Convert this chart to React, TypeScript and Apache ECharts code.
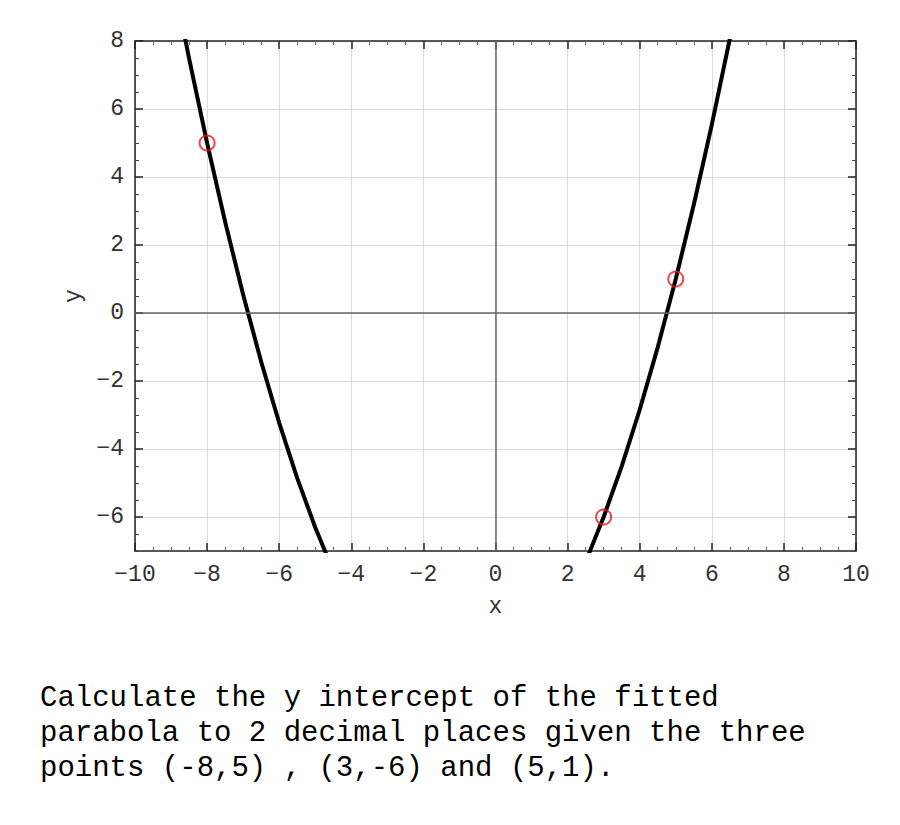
import React, { useEffect, useRef } from "react";
import * as echarts from "echarts";

// Fitted parabola, values
const curveX = [-9, -8.5, -8, -7.5, -7, -6.5, -6, -5.5, -5, -4.5, -4, -3, -2, -1, 0, 1, 2, 2.5, 3, 3.5, 4, 4.5, 5, 5.5, 6, 6.5, 7];
const curveY = [10.154, 7.49, 5.0, 2.683, 0.538, -1.433, -3.231, -4.856, -6.308, -7.587, -8.692, -10.385, -11.385, -11.692, -11.308, -10.231, -8.462, -7.317, -6.0, -4.51, -2.846, -1.01, 1.0, 3.183, 5.538, 8.067, 10.769];

// Given points (red circles)
const pointsX = [-8, 3, 5];
const pointsY = [5, -6, 1];

const xTicks = { min: -10, max: 10, interval: 2 };
const yRange = { min: -7, max: 8, minorInterval: 0.5 };
const yMajorTicks = [-6, -4, -2, 0, 2, 4, 6, 8];

const questionLines = [
  "Calculate the y intercept of the fitted",
  "parabola to 2 decimal places given the three",
  "points (-8,5) , (3,-6) and (5,1).",
];

const FONT = '"Liberation Mono", "Courier New", monospace';
const fmt = (v: number) => String(v).replace("-", "\u2212");

export default function App() {
  const ref = useRef<HTMLDivElement>(null);

  useEffect(() => {
    document.body.style.margin = "0";
    if (!ref.current) return;
    const chart = echarts.init(ref.current, undefined, { renderer: "svg" });

    const labelStyle = { color: "#333", fontFamily: FONT, fontSize: 23 };
    const frameLine = { show: true, onZero: false, lineStyle: { color: "#222", width: 1.5 } };

    const majorX = (pos: "bottom" | "top", labels: boolean) => ({
      type: "value",
      position: pos,
      min: xTicks.min,
      max: xTicks.max,
      interval: xTicks.interval,
      name: labels ? "x" : "",
      nameLocation: "middle",
      nameGap: 44,
      nameTextStyle: { color: "#333", fontFamily: FONT, fontSize: 23 },
      axisLine: frameLine,
      axisTick: { show: true, inside: true, length: 8, lineStyle: { color: "#222", width: 1.5 } },
      minorTick: { show: true, splitNumber: 4, length: 4, lineStyle: { color: "#666", width: 1 } },
      axisLabel: { show: labels, margin: 12, formatter: fmt, ...labelStyle },
      splitLine: { show: labels, lineStyle: { color: "#dcdcdc", width: 1 } },
      minorSplitLine: { show: false },
    });

    const majorY = (pos: "left" | "right", labels: boolean) => ({
      type: "value",
      position: pos,
      min: yRange.min,
      max: yRange.max,
      interval: yRange.minorInterval,
      name: labels ? "y" : "",
      nameLocation: "middle",
      nameGap: 47,
      nameRotate: 90,
      nameTextStyle: { color: "#333", fontFamily: FONT, fontSize: 23 },
      axisLine: frameLine,
      axisTick: {
        show: true,
        inside: true,
        length: 8,
        customValues: yMajorTicks,
        lineStyle: { color: "#222", width: 1.5 },
      },
      axisLabel: {
        show: labels,
        margin: 11,
        customValues: yMajorTicks,
        formatter: fmt,
        ...labelStyle,
      },
      splitLine: { show: labels, lineStyle: { color: "#dcdcdc", width: 1 } },
    });

    const minorY = (pos: "left" | "right") => ({
      type: "value",
      position: pos,
      min: yRange.min,
      max: yRange.max,
      interval: yRange.minorInterval,
      axisLine: { show: false, onZero: false },
      axisTick: { show: true, inside: true, length: 4, lineStyle: { color: "#444", width: 1 } },
      axisLabel: { show: false },
      splitLine: { show: false },
    });

    chart.setOption({
      animation: false,
      backgroundColor: "#fff",
      grid: { left: 135, right: 44, top: 41, bottom: 274, containLabel: false },
      xAxis: [majorX("bottom", true), majorX("top", false)],
      yAxis: [majorY("left", true), minorY("left"), majorY("right", false), minorY("right")],
      graphic: [
        {
          type: "text",
          left: 40,
          top: 681,
          style: {
            text: questionLines.join("\n"),
            fontFamily: FONT,
            fontSize: 29,
            lineHeight: 35,
            fill: "#000",
          },
        },
      ],
      series: [
        {
          type: "line",
          xAxisIndex: 0,
          yAxisIndex: 0,
          data: [],
          z: 1,
          silent: true,
          markLine: {
            silent: true,
            symbol: ["none", "none"],
            label: { show: false },
            lineStyle: { color: "#666", width: 1.5, type: "solid" },
            data: [{ xAxis: 0 }, { yAxis: 0 }],
          },
        },
        {
          type: "line",
          xAxisIndex: 0,
          yAxisIndex: 0,
          data: curveX.map((x, i) => [x, curveY[i]]),
          showSymbol: false,
          clip: true,
          z: 3,
          lineStyle: { color: "#000", width: 4 },
        },
        {
          type: "scatter",
          xAxisIndex: 0,
          yAxisIndex: 0,
          data: pointsX.map((x, i) => [x, pointsY[i]]),
          symbol: "circle",
          symbolSize: 15,
          z: 4,
          itemStyle: { color: "rgba(0,0,0,0)", borderColor: "#e8161b", borderWidth: 2 },
        },
      ],
    });

    return () => chart.dispose();
  }, []);

  return <div ref={ref} style={{ width: 900, height: 825 }} />;
}
